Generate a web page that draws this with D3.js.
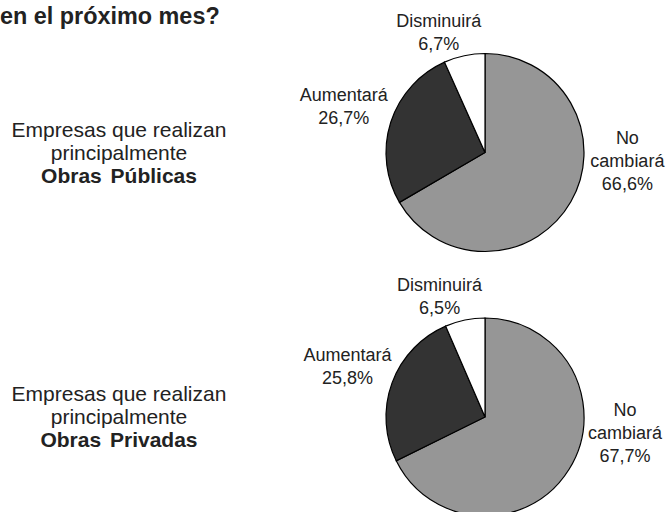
<!DOCTYPE html>
<html>
<head>
<meta charset="utf-8">
<script src="https://cdn.jsdelivr.net/npm/d3@7/dist/d3.min.js"></script>
<style>
  body { margin: 0; background: #fff; }
  text { font-family: "Liberation Sans", Arial, sans-serif; fill: #222; }
</style>
</head>
<body>
<svg id="chart" width="667" height="512"></svg>
<script>
// data
var categories = ["No cambiará", "Aumentará", "Disminuirá"];
var catLines = [["No", "cambiará"], ["Aumentará"], ["Disminuirá"]];
var publicas = [66.6, 26.7, 6.7];
var privadas = [67.7, 25.8, 6.5];
var groups = ["Obras Públicas", "Obras Privadas"];
var seriesList = [publicas, privadas];

var colors = ["#969696", "#333333", "#ffffff"];
// nudges of each label away from the arc centroid (Excel "best fit" look)
var nudge = [
    [[21, -61], [-8, -3], [-17, 17]],
    [[21, -58], [-6, -2], [-17, 17]]
];

var width = 667, height = 512;
var r = 99;
var cx = 485;
var cy = [152.5, 417];

var svg = d3.select("#chart");

svg.append("text")
    .attr("x", 0)
    .attr("y", 24)
    .style("font-size", "23.4px")
    .style("font-weight", "bold")
    .text("en el próximo mes?");

var pie = d3.pie().sort(null).value(d => d);
var arc = d3.arc().innerRadius(0).outerRadius(r);
var labelArc = d3.arc().innerRadius(140).outerRadius(140);
var fmt = v => d3.format(".1f")(v).replace(".", ",") + "%";

seriesList.forEach(function(values, gi) {
    var g = svg.append("g")
        .attr("transform", "translate(" + cx + "," + cy[gi] + ")");

    var arcs = pie(values);

    g.selectAll("path")
        .data(arcs)
        .enter()
        .append("path")
        .attr("d", arc)
        .attr("fill", (d, i) => colors[i])
        .attr("stroke", "#000")
        .attr("stroke-width", 1.2);

    arcs.forEach(function(d, i) {
        var c = labelArc.centroid(d);
        var x = c[0] + nudge[gi][i][0];
        var y = c[1] + nudge[gi][i][1];
        var lines = catLines[i].concat([fmt(values[i])]);
        var lh = 23;
        var t = g.append("text")
            .attr("text-anchor", "middle")
            .style("font-size", "18px");
        lines.forEach(function(s, k) {
            t.append("tspan")
                .attr("x", x)
                .attr("y", y + 6 + (k - (lines.length - 1) / 2) * lh)
                .text(s);
        });
    });

    // group caption on the left
    var cap = svg.append("text")
        .attr("text-anchor", "middle")
        .style("font-size", "21px");
    var baseY = cy[gi] - 16;
    cap.append("tspan").attr("x", 119).attr("y", baseY).text("Empresas que realizan");
    cap.append("tspan").attr("x", 119).attr("y", baseY + 23).text("principalmente");
    cap.append("tspan").attr("x", 119).attr("y", baseY + 46)
        .style("font-weight", "bold")
        .style("word-spacing", "3px")
        .text(groups[gi]);
});
</script>
</body>
</html>
